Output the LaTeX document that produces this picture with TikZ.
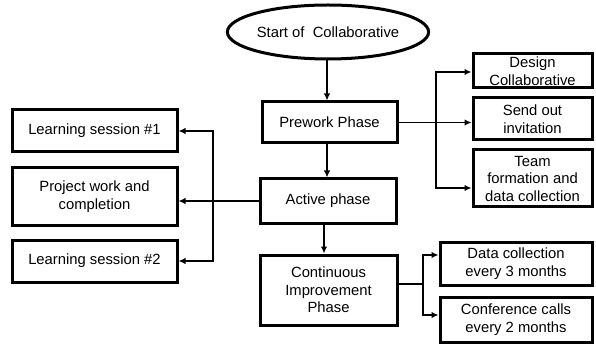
\documentclass[tikz,border=0pt]{standalone}
\usepackage{fontspec}
\setmainfont{Liberation Sans}
\usetikzlibrary{arrows.meta,shapes.geometric}
\begin{document}
\begin{tikzpicture}[x=1pt,y=-1pt,
  box/.style={draw, line width=3pt, rectangle, align=center, inner sep=1pt,
    font=\fontsize{14.8}{17.5}\selectfont},
  conn/.style={line width=1.9pt},
  arr/.style={conn, -{Latex[length=7pt,width=6.5pt]}}]
\useasboundingbox (0,0) rectangle (596,347);
\fill[white] (0,0) rectangle (596,347);
% nodes
\node[draw, ellipse, line width=3pt, minimum width=194, minimum height=54, inner sep=0pt,
  font=\fontsize{14.8}{17.5}\selectfont] (start) at (328,32) {Start of\ \ Collaborative};
\node[box, minimum width=135, minimum height=41] (prework) at (329.5,122.5) {Prework Phase};
\node[box, minimum width=136, minimum height=44] (active) at (328,201) {Active phase};
\node[box, minimum width=137, minimum height=70] (cont) at (328.5,290) {Continuous\\Improvement\\Phase};
\node[box, minimum width=165, minimum height=42] (ls1) at (94.5,131) {Learning session \#1};
\node[box, minimum width=165, minimum height=57] (proj) at (94.5,196.5) {Project work and\\completion};
\node[box, minimum width=165, minimum height=42] (ls2) at (94.5,261) {Learning session \#2};
\node[box, minimum width=119, minimum height=34, inner ysep=0pt] (design) at (532.5,71) {Design\\Collaborative};
\node[box, minimum width=119, minimum height=42] (send) at (532.5,119) {Send out\\invitation};
\node[box, minimum width=119, minimum height=57, inner ysep=0pt] (team) at (532.5,178.5) {Team\\formation and\\data collection};
\node[box, minimum width=152, minimum height=43] (data) at (516,263.5) {Data collection\\every 3 months};
\node[box, minimum width=152, minimum height=45] (conf) at (516,319.5) {Conference calls\\every 2 months};
% junctions
\coordinate (jl) at (213,201);
\coordinate (jr) at (436,122.5);
\coordinate (jc) at (423,284);
% connectors
\draw[arr] (start.south -| 327,0) -- (prework.north -| 327,0);
\draw[arr] (prework.south -| 327,0) -- (active.north -| 327,0);
\draw[arr] (active.south -| 324,0) -- (cont.north -| 324,0);
\draw[arr] (active.west) -- (proj.east |- active.west);
\draw[arr] (jl) |- (ls1.east);
\draw[arr] (jl) |- (ls2.east);
\draw[arr] (prework.east) -- (send.west |- prework.east);
\draw[arr] (jr) |- ([yshift=-1pt]design.west);
\draw[arr] (jr) |- ([yshift=-9.5pt]team.west);
\draw[conn] ([yshift=6pt]cont.east) -- (jc);
\draw[arr] (jc) |- ([yshift=8.5pt]data.west);
\draw[arr] (jc) |- ([yshift=4.5pt]conf.west);
\end{tikzpicture}
\end{document}
